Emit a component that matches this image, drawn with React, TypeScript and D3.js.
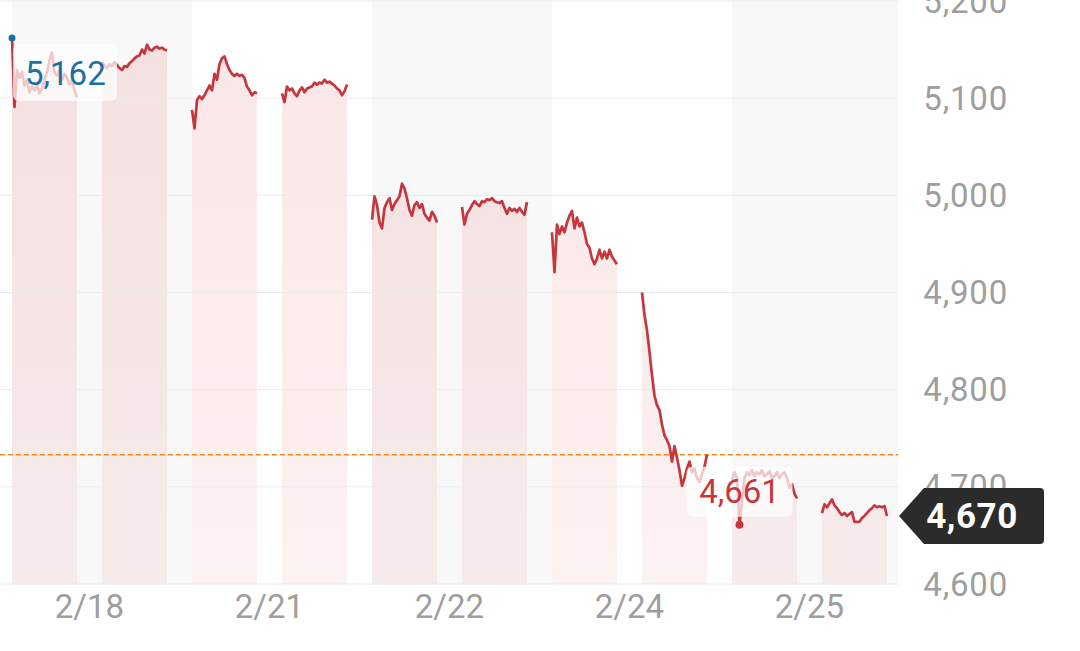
import React from "react";
import * as d3 from "d3";

// trading days shown on the axis
const days = ["2/18", "2/21", "2/22", "2/24", "2/25"];
const yTicks = [4600, 4700, 4800, 4900, 5000, 5100, 5200];

const prevClose = 4733;
const lastPrice = 4670;

// two sessions per day, prices
const d0a = [5162, 5091, 5129, 5121, 5127, 5113, 5119, 5106, 5112, 5108, 5114, 5105, 5110, 5119, 5127, 5139, 5147, 5127, 5123, 5129, 5119, 5125, 5121, 5114, 5119, 5108, 5101];
const d0b = [5137, 5133, 5131, 5135, 5133, 5137, 5134, 5131, 5129, 5133, 5132, 5136, 5138, 5141, 5143, 5144, 5150, 5146, 5155, 5150, 5149, 5152, 5153, 5151, 5152, 5150, 5149];
const d1a = [5088, 5069, 5098, 5102, 5099, 5103, 5108, 5113, 5108, 5125, 5119, 5135, 5141, 5143, 5135, 5129, 5125, 5123, 5125, 5123, 5124, 5121, 5112, 5108, 5103, 5106, 5105];
const d1b = [5105, 5096, 5112, 5108, 5110, 5105, 5102, 5108, 5111, 5106, 5110, 5111, 5112, 5116, 5114, 5116, 5115, 5119, 5116, 5117, 5115, 5113, 5110, 5108, 5103, 5107, 5114];
const d2a = [4975, 4999, 4990, 4972, 4966, 4987, 4993, 4997, 4985, 4991, 4995, 4999, 5012, 5007, 4997, 4985, 4979, 4990, 4993, 4987, 4991, 4981, 4977, 4974, 4983, 4979, 4972];
const d2b = [4988, 4970, 4981, 4985, 4990, 4994, 4991, 4989, 4994, 4993, 4996, 4995, 4997, 4994, 4993, 4992, 4994, 4987, 4981, 4987, 4984, 4986, 4983, 4987, 4983, 4980, 4993];
const d3a = [4962, 4921, 4970, 4960, 4968, 4962, 4972, 4979, 4984, 4966, 4977, 4968, 4972, 4962, 4950, 4946, 4935, 4929, 4935, 4944, 4935, 4942, 4935, 4944, 4937, 4933, 4929];
const d3b = [4900, 4877, 4861, 4839, 4815, 4794, 4784, 4779, 4764, 4753, 4748, 4742, 4726, 4742, 4730, 4717, 4701, 4709, 4719, 4726, 4715, 4719, 4709, 4705, 4713, 4721, 4733];
const d4a = [4707, 4715, 4709, 4661, 4686, 4709, 4715, 4712, 4717, 4711, 4715, 4713, 4717, 4711, 4713, 4716, 4709, 4711, 4715, 4709, 4713, 4715, 4709, 4699, 4703, 4693, 4688];
const d4b = [4673, 4682, 4679, 4683, 4687, 4681, 4678, 4674, 4671, 4673, 4670, 4672, 4674, 4664, 4664, 4664, 4668, 4670, 4673, 4676, 4678, 4681, 4679, 4680, 4679, 4680, 4670];

const sessionData = [
  [d0a, d0b],
  [d1a, d1b],
  [d2a, d2b],
  [d3a, d3b],
  [d4a, d4b],
];

// session start (fraction of a day) and length
const sessionStart = [0, 0.5];
const sessionLen = 0.361;
const labelAt = 0.43;

const W = 1080;
const H = 651;
const plotLeft = 12;
const plotRight = 898;
const plotBottom = 584;

const RED = "#c5373c";
const BLUE = "#1a6fa6";
const GREY = "#9e9e9e";
const FONT = "Roboto, 'Noto Sans', sans-serif";

type Pt = { t: number; v: number };

export default function App() {
  const x = d3.scaleLinear().domain([0, 5]).range([plotLeft, plotLeft + 900]);
  const y = d3.scaleLinear().domain([4600, 5200]).range([plotBottom, 1]);

  const series: Pt[][] = [];
  sessionData.forEach((pair, di) => {
    pair.forEach((vals, si) => {
      const n = vals.length - 1;
      series.push(vals.map((v, i) => ({ t: di + sessionStart[si] + (sessionLen * i) / n, v })));
    });
  });

  const all = series.flat();
  const hi = all.reduce((a, b) => (b.v > a.v ? b : a));
  const lo = all.reduce((a, b) => (b.v < a.v ? b : a));

  const line = d3
    .line<Pt>()
    .x((d) => x(d.t))
    .y((d) => y(d.v));
  const area = d3
    .area<Pt>()
    .x((d) => x(d.t))
    .y0(plotBottom)
    .y1((d) => y(d.v));

  const fmt = d3.format(",");

  const hx = x(hi.t);
  const hy = y(hi.v);
  const lx = x(lo.t);
  const ly = y(lo.v);
  const py = y(lastPrice);
  const tipX = plotRight + 1;

  const badge = `M${tipX},${py} L${tipX + 25},${py - 28} L${1040},${py - 28} Q${1044},${py - 28} ${1044},${py - 24} L${1044},${py + 24} Q${1044},${py + 28} ${1040},${py + 28} L${tipX + 25},${py + 28} Z`;

  return (
    <div style={{ position: "absolute", left: 0, top: 0 }}>
      <svg width={W} height={H} style={{ display: "block", fontFamily: FONT }}>
        <defs>
          <linearGradient id="fillGrad" gradientUnits="userSpaceOnUse" x1="0" y1="0" x2="0" y2={plotBottom}>
            <stop offset="0%" stopColor="rgb(220,60,60)" stopOpacity={0.13} />
            <stop offset="100%" stopColor="rgb(220,60,60)" stopOpacity={0.07} />
          </linearGradient>
        </defs>
        <rect width={W} height={H} fill="#fff" />
        {days.map((d, i) =>
          i % 2 === 0 ? (
            <rect
              key={d}
              x={x(i)}
              y={0}
              width={Math.min(x(i + 1), plotRight) - x(i)}
              height={plotBottom + 1}
              fill="#f8f8f8"
            />
          ) : null
        )}
        {series.map((s, i) => (
          <path key={"a" + i} d={area(s) || ""} fill="url(#fillGrad)" />
        ))}
        {yTicks.map((t) => (
          <line key={t} x1={0} x2={plotRight} y1={y(t)} y2={y(t)} stroke="#ebebeb" strokeWidth={1} />
        ))}
        <line
          x1={0}
          x2={plotRight}
          y1={y(prevClose)}
          y2={y(prevClose)}
          stroke="#ef8a1d"
          strokeWidth={1.5}
          strokeDasharray="5,3"
        />
        {series.map((s, i) => (
          <path key={"l" + i} d={line(s) || ""} fill="none" stroke={RED} strokeWidth={2.7} strokeLinejoin="round" />
        ))}

        {/* high label */}
        <rect x={hx + 1} y={hy + 6} width={104} height={57} rx={6} fill="#fff" fillOpacity={0.72} />
        <text x={hx + 13} y={hy + 47} fontSize={33} fill={BLUE}>
          {fmt(hi.v)}
        </text>
        <circle cx={hx} cy={hy} r={3.5} fill={BLUE} />

        {/* low label */}
        <rect x={lx - 53} y={ly - 58} width={106} height={50} rx={6} fill="#fff" fillOpacity={0.72} />
        <text x={lx} y={ly - 22} fontSize={33} fill={RED} textAnchor="middle">
          {fmt(lo.v)}
        </text>
        <circle cx={lx} cy={ly} r={4} fill={RED} />

        {yTicks.map((t) => (
          <text key={t} x={1008} y={y(t) + 11.5} fontSize={33} fill={GREY} textAnchor="end" letterSpacing={0.8}>
            {fmt(t)}
          </text>
        ))}
        {days.map((d, i) => (
          <text key={d} x={x(i + labelAt)} y={618} fontSize={33} fill={GREY} textAnchor="middle">
            {d}
          </text>
        ))}

        <path d={badge} fill="#2b2b2b" />
        <text x={972} y={py + 12.5} fontSize={35} fontWeight="bold" fill="#fff" textAnchor="middle" letterSpacing={0.5}>
          {fmt(lastPrice)}
        </text>
      </svg>
    </div>
  );
}
